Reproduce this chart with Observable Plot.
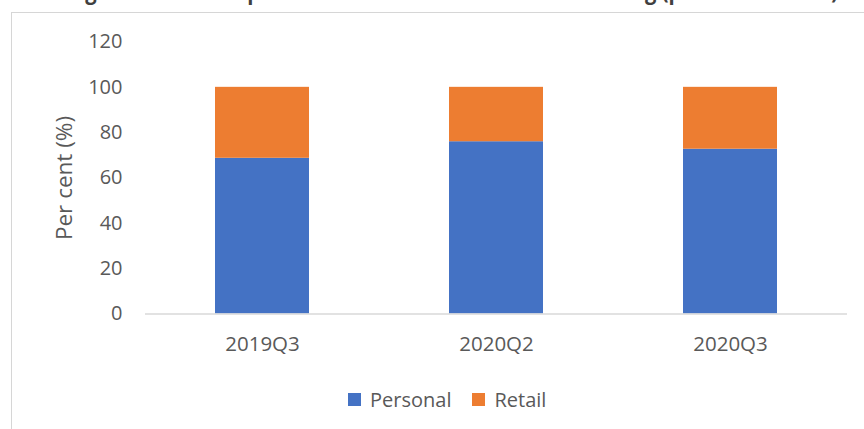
<!DOCTYPE html>
<html>
<head>
<meta charset="utf-8">
<script src="https://cdn.jsdelivr.net/npm/d3@7"></script>
<script src="https://cdn.jsdelivr.net/npm/@observablehq/plot@0.6"></script>
<style>
  html, body { margin: 0; padding: 0; background: #fff; }
  #page { position: relative; width: 864px; height: 429px; overflow: hidden; background: #fff; font-family: "Open Sans", sans-serif; }
  #frame { position: absolute; left: 11px; top: 12px; width: 900px; height: 500px; border: 1px solid #d6d6d6; box-sizing: border-box; }
  #title { position: absolute; left: 0; top: 0; }
  #chart { position: absolute; left: 0; top: 0; }
  #legend { position: absolute; left: 348px; top: 386px; display: flex; align-items: center; font-size: 20px; color: #595959; }
  .item { display: flex; align-items: center; margin-right: 21px; }
  .sw { width: 13px; height: 13px; margin-right: 9px; }
</style>
</head>
<body>
<div id="page">
  <svg id="title" width="864" height="20"><text x="68" y="-1" textLength="770" lengthAdjust="spacingAndGlyphs" font-family="Open Sans, sans-serif" font-weight="bold" font-size="24" fill="#404040">Figure 5: Share of personal and retail loans in total lending (per cent of total)</text></svg>
  <div id="frame"></div>
  <div id="chart"></div>
  <div id="legend"></div>
</div>
<script>
const quarters = ["2019Q3", "2020Q2", "2020Q3"];
const personal = [68.7, 76.0, 72.7];
const retail = [31.3, 24.0, 27.3];
const seriesNames = ["Personal", "Retail"];
const seriesColors = ["#4472C4", "#ED7D31"];
const yTicks = [0, 20, 40, 60, 80, 100, 120];
const yLabel = "Per cent (%)";

const data = [];
quarters.forEach((q, i) => {
  data.push({quarter: q, series: "Personal", value: personal[i]});
  data.push({quarter: q, series: "Retail", value: retail[i]});
});

const chart = Plot.plot({
  width: 864,
  height: 370,
  marginTop: 41.5,
  marginBottom: 56.5,
  marginLeft: 145,
  marginRight: 17,
  style: {fontFamily: "Open Sans, sans-serif", fontSize: "20px", color: "#595959", background: "transparent"},
  x: {domain: quarters, paddingInner: 0.6, paddingOuter: 0.3, label: null},
  y: {domain: [0, 120], label: null},
  color: {domain: seriesNames, range: seriesColors},
  marks: [
    Plot.barY(data, {x: "quarter", y: "value", fill: "series", order: seriesNames}),
    Plot.ruleY([0], {stroke: "#d9d9d9", strokeWidth: 1.5}),
    Plot.axisY({ticks: yTicks, tickSize: 0, tickPadding: 23, fill: "#595959", fontSize: 20, label: null}),
    Plot.axisX({tickSize: 0, tickPadding: 22, fill: "#595959", fontSize: 20.5, label: null}),
    Plot.text([yLabel], {text: (d) => d, frameAnchor: "left", textAnchor: "middle", lineAnchor: "middle", dx: -81, rotate: -90, fontSize: 22.5, fill: "#595959"})
  ]
});
document.getElementById("chart").appendChild(chart);

const legend = document.getElementById("legend");
seriesNames.forEach((name, i) => {
  const item = document.createElement("div");
  item.className = "item";
  const sw = document.createElement("div");
  sw.className = "sw";
  sw.style.background = seriesColors[i];
  const label = document.createElement("span");
  label.textContent = name;
  item.appendChild(sw);
  item.appendChild(label);
  legend.appendChild(item);
});
</script>
</body>
</html>
